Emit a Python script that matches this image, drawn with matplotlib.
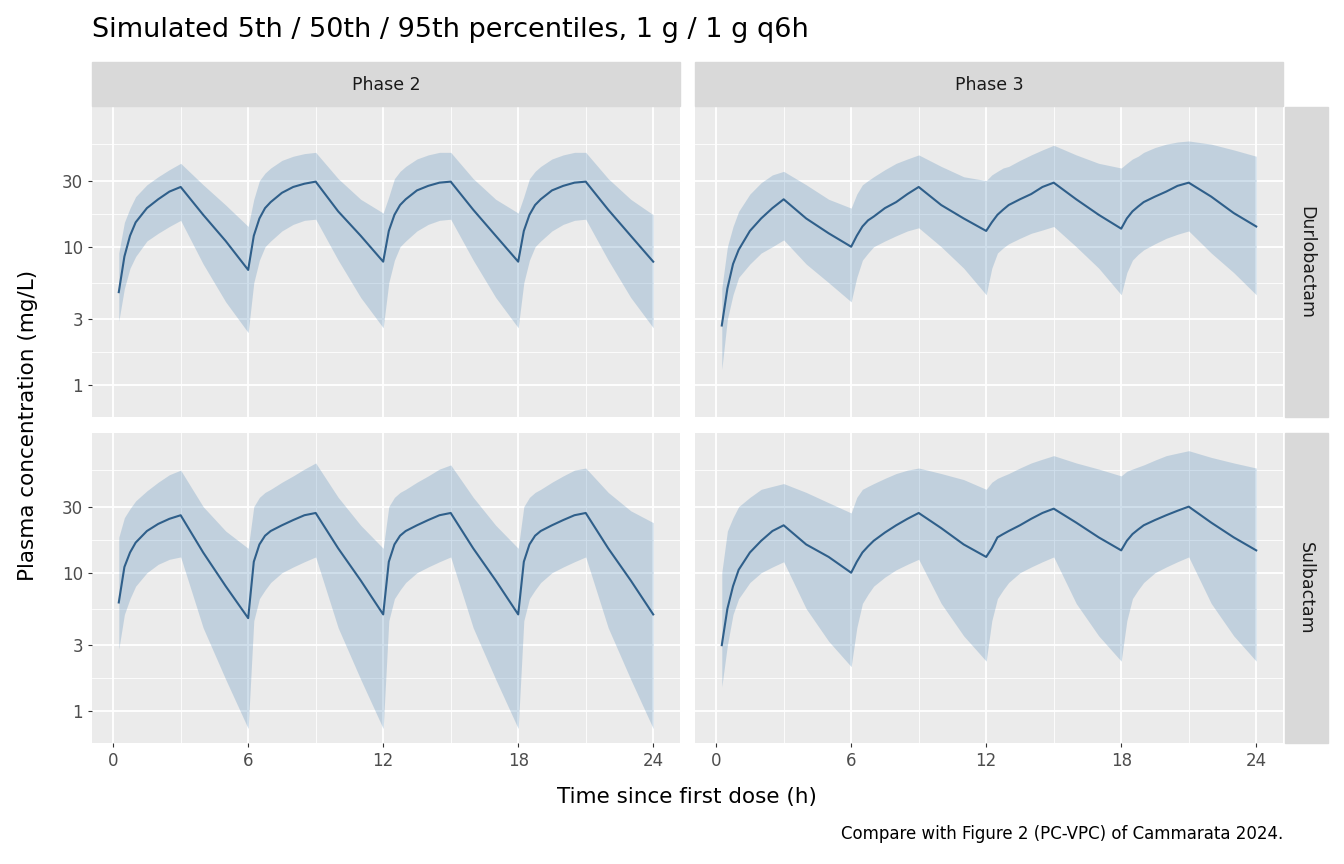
import numpy as np
import matplotlib
matplotlib.use("Agg")
import matplotlib.pyplot as plt

offs = [0.25,0.5,0.75,1,1.5,2,2.5,3,4,5,6]
time = [c*6+o for c in range(4) for o in offs]

# Phase 2 Durlobactam
p2d_med = [4.7,8.5,12,15,19,22,25,27,17,11,6.8,
           12,16,19,21,24.5,27,28.5,29.5,18,12,7.8,
           13,17,20,22,25.5,27.5,29,29.5,18.5,12,7.8,
           13,17,20,22,25.5,27.5,29,29.5,18.5,12,7.8]
p2d_hi = [9,15,19,23,28,32,36,40,28,20,14,
          22,30,34,37,42,45,47,48,31,22,17.5,
          23,31,35,38,43,46,48,48,31,22,17.5,
          23,31,35,38,43,46,48,48,31,22,17]
p2d_lo = [2.9,5,7,8.5,11,12.5,14,15.5,7.5,4,2.4,
          5.5,8,10,11,13,14.5,15.5,15.8,8,4.3,2.6,
          5.5,8,10,11,13,14.5,15.5,15.8,8,4.3,2.6,
          5.5,8,10,11,13,14.5,15.5,15.8,8,4.3,2.6]
# Phase 3 Durlobactam
p3d_med = [2.7,5,7.5,9.5,13,16,19,22,16,12.5,10,
           12,14,15.5,16.5,19,21,24,27,20,16,13,
           15,17,18.5,20,22,24,27,29,22,17,13.5,
           16,18,19.5,21,23,25,27.5,29,23,17.5,14]
p3d_hi = [5,10,14,18,24,29,33,35,28,22,19,
          24,28,30,32,36,40,43,46,38,32,30,
          33,35,37,38,42,46,50,54,46,40,37,
          40,43,45,48,52,55,57,58,55,50,45]
p3d_lo = [1.3,3,4.5,6,7.5,9,10,11.2,7.5,5.5,4,
          6,8,9,10,11,12,13,13.7,10,7,4.5,
          7,9,9.8,10.5,11.5,12.5,13.2,14,10,7,4.5,
          6.5,8,8.8,9.5,10.5,11.5,12.3,13,9,6.5,4.5]
# Phase 2 Sulbactam
p2s_med = [6.1,11,14,16.5,20,22.5,24.5,26,14,8,4.7,
           12,16,18.5,20,22,24,26,27,15,8.8,5,
           12,16,18.5,20,22,24,26,27,15,8.8,5,
           12,16,18.5,20,22,24,26,27,15,8.8,5]
p2s_hi = [18,25,29,33,39,45,51,55,30,20,15,
          30,35,38,40,45,50,56,62,35,22,15,
          30,35,38,40,45,50,56,60,35,22,15,
          30,35,38,40,45,50,55,57,38,28,23]
p2s_lo = [2.8,5,6.5,8,10,11.5,12.5,13,4,1.7,0.75,
          4.5,6.5,7.5,8.5,10,11,12,13,4,1.7,0.75,
          4.5,6.5,7.5,8.5,10,11,12,13,4,1.7,0.75,
          4.5,6.5,7.5,8.5,10,11,12,13,4,1.7,0.75]
# Phase 3 Sulbactam
p3s_med = [3,5.5,8,10.5,14,17,20,22,16,13,10,
           12,14,15.5,17,19.5,22,24.5,27,21,16,13,
           15,18,19,20,22,24.5,27,29,23,18,14.5,
           17,19,20.5,22,24,26,28,30,23,18,14.5]
p3s_hi = [10,20,25,30,35,40,42,44,38,32,27,
          35,40,42,44,48,52,55,57,52,47,40,
          45,48,50,52,57,62,66,70,62,56,50,
          54,56,58,60,65,70,73,76,68,62,57]
p3s_lo = [1.5,3,5,6.5,8.5,10,11,12,5.5,3.2,2.1,
          4,6,7,8,9.3,10.5,11.5,12.5,6,3.5,2.3,
          4.5,6.5,7.5,8.5,10,11,12,13,6,3.5,2.3,
          4.5,6.5,7.5,8.5,10,11,12,13,6,3.5,2.3]

phases = ["Phase 2", "Phase 3"]
drugs = ["Durlobactam", "Sulbactam"]
data = {("Durlobactam","Phase 2"): (p2d_lo,p2d_med,p2d_hi),
        ("Durlobactam","Phase 3"): (p3d_lo,p3d_med,p3d_hi),
        ("Sulbactam","Phase 2"): (p2s_lo,p2s_med,p2s_hi),
        ("Sulbactam","Phase 3"): (p3s_lo,p3s_med,p3s_hi)}

W, H = 1344, 864
fig = plt.figure(figsize=(W/100, H/100), dpi=100)
def ax_at(x0,y0,x1,y1):
    return fig.add_axes([x0/W, 1-y1/H, (x1-x0)/W, (y1-y0)/H])

xs = [(92,680),(695,1283)]
ys = [(107,417),(433,743)]
yt = [1,3,10,30]
ymin = [np.sqrt(0.3*1), np.sqrt(3), np.sqrt(30), np.sqrt(300), np.sqrt(3000)]
for r, drug in enumerate(drugs):
    for c, ph in enumerate(phases):
        ax = ax_at(xs[c][0], ys[r][0], xs[c][1], ys[r][1])
        ax.set_facecolor("#EBEBEB")
        ax.set_yscale("log")
        ax.set_xlim(-0.94, 25.19)
        ax.set_ylim(0.59, 102)
        for v in ymin:
            ax.axhline(v, color="white", lw=0.6, zorder=0)
        for v in yt:
            ax.axhline(v, color="white", lw=1.3, zorder=0)
        for v in [3,9,15,21]:
            ax.axvline(v, color="white", lw=0.6, zorder=0)
        for v in [0,6,12,18,24]:
            ax.axvline(v, color="white", lw=1.3, zorder=0)
        lo, med, hi = data[(drug, ph)]
        ax.fill_between(time, lo, hi, color="#4682B4", alpha=0.25, lw=0, zorder=2)
        ax.plot(time, med, color="#2F5F8A", lw=1.5, zorder=3)
        for s in ax.spines.values():
            s.set_visible(False)
        ax.minorticks_off()
        ax.set_yticks(yt)
        ax.set_xticks([0,6,12,18,24])
        ax.tick_params(colors="#333333", labelcolor="#4D4D4D", labelsize=12, length=3)
        if c == 0:
            ax.set_yticklabels([str(v) for v in yt])
        else:
            ax.set_yticklabels([])
            ax.tick_params(axis="y", length=0)
        if r == 1:
            ax.set_xticklabels(["0","6","12","18","24"])
        else:
            ax.set_xticklabels([])
            ax.tick_params(axis="x", length=0)
        if r == 0:
            fig.text((xs[c][0]+xs[c][1])/2/W, 1-85/H, ph, ha="center", va="center",
                     fontsize=12.5, color="#1A1A1A")
            fig.patches.append(plt.Rectangle((xs[c][0]/W, 1-106/H), (xs[c][1]-xs[c][0])/W, 44/H,
                               transform=fig.transFigure, color="#D9D9D9", zorder=0))
    fig.patches.append(plt.Rectangle((1285/W, 1-ys[r][1]/H), 43/W, (ys[r][1]-ys[r][0])/H,
                       transform=fig.transFigure, color="#D9D9D9", zorder=0))
    fig.text(1306/W, 1-(ys[r][0]+ys[r][1])/2/H, drug, rotation=270, ha="center", va="center",
             fontsize=12.5, color="#1A1A1A")

fig.text(92/W, 1-30/H, "Simulated 5th / 50th / 95th percentiles, 1 g / 1 g q6h",
         fontsize=19.5, ha="left", va="center")
fig.text(687/W, 1-797/H, "Time since first dose (h)", fontsize=15.5, ha="center", va="center")
fig.text(28/W, 1-425/H, "Plasma concentration (mg/L)", fontsize=15.5, rotation=90,
         ha="center", va="center")
fig.text(1283/W, 1-834/H, "Compare with Figure 2 (PC-VPC) of Cammarata 2024.",
         fontsize=12, ha="right", va="center")
fig.savefig("out.png", dpi=100)
